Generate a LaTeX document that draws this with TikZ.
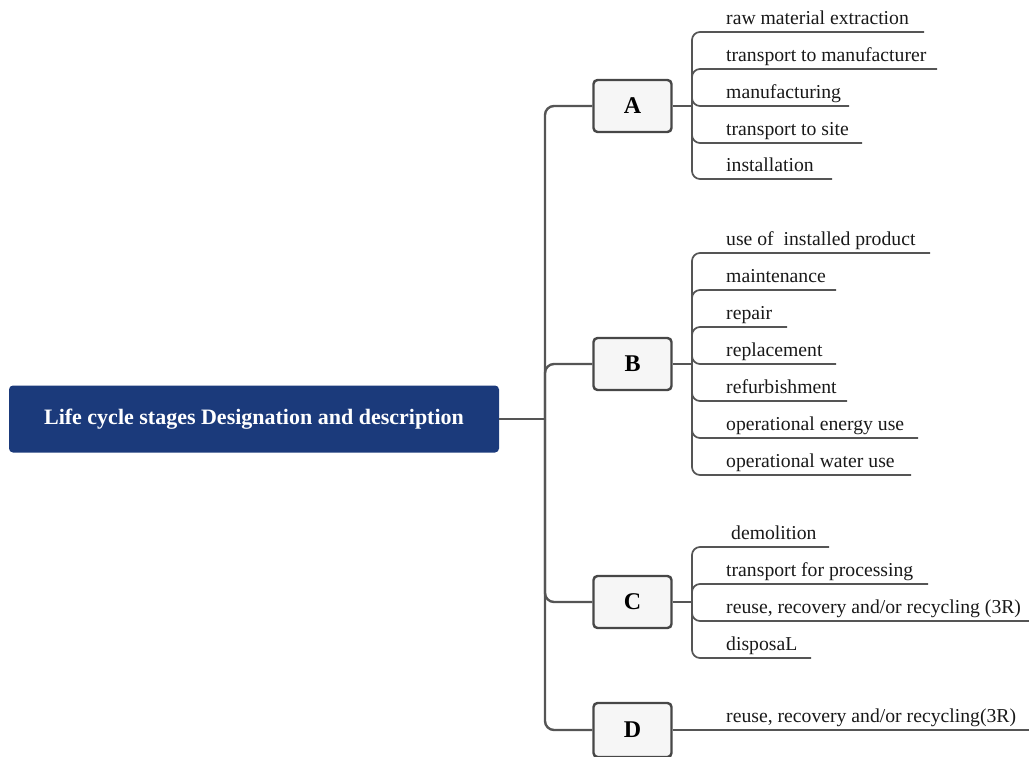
\documentclass[tikz,border=0pt]{standalone}
\usepackage{fontspec}
\setmainfont{Liberation Serif}
\begin{document}
\begin{tikzpicture}[x=1pt,y=-1pt,
  rootbox/.style={draw=none,fill=rootblue,rounded corners=4pt,minimum width=490pt,minimum height=67pt,text=white,font=\fontsize{22}{24}\selectfont\bfseries,inner sep=0pt},
  stagebox/.style={draw=boxline,line width=2.4pt,fill=boxfill,rounded corners=4pt,minimum width=78pt,minimum height=52pt,font=\fontsize{24}{26}\selectfont\bfseries,inner sep=0pt},
  item/.style={anchor=base west,inner sep=0pt,font=\fontsize{19.7}{22}\selectfont,text=black!90},
  trunk/.style={draw=linegray,line width=2.4pt,rounded corners=9pt},
  twig/.style={draw=linegray,line width=1.7pt,rounded corners=8pt}]
\definecolor{rootblue}{HTML}{1B3A7B}
\definecolor{boxline}{HTML}{474747}
\definecolor{boxfill}{HTML}{F6F6F6}
\definecolor{linegray}{HTML}{555555}
\useasboundingbox (0,0) rectangle (1029,757);

% root and trunk
\node[rootbox] (root) at (254,419) {Life cycle stages Designation and description};
\coordinate (hub) at (545,419);
\draw[trunk] (root.east) -- (hub);
\begin{scope}
\clip (0,0) rectangle (1029,757);
\node[stagebox] (A) at (632.5,106) {A};
\node[stagebox] (B) at (632.5,364) {B};
\node[stagebox] (C) at (632.5,602) {C};
\node[stagebox,minimum height=54pt] (D) at (632.5,730) {D};
\end{scope}
\draw[trunk] (hub) |- (A.west);
\draw[trunk] (hub) |- (B.west);
\draw[trunk] (hub) |- (C.west);
\draw[trunk] (hub) |- (D.west);

% A children
\coordinate (ja) at (692,106);
\draw[twig] (A.east) -- (ja);
\foreach \y/\e/\t/\n in {32/924/raw material extraction/a1,69/937/transport to manufacturer/a2,106/849/manufacturing/a3,143/862/transport to site/a4,179/832/installation/a5}{
  \node[item] (\n) at (726,\y-7.5) {\t};
  \coordinate (\n e) at (\e,\y);
  \draw[twig] (ja) |- (\n e);
}

% B children
\coordinate (jb) at (692,364);
\draw[twig] (B.east) -- (jb);
\foreach \y/\e/\t/\n in {253/930/use of\ \ installed product/b1,290/836/maintenance/b2,327/787/repair/b3,364/836/replacement/b4,401/847/refurbishment/b5,438/918/operational energy use/b6,475/911/operational water use/b7}{
  \node[item] (\n) at (726,\y-7.5) {\t};
  \coordinate (\n e) at (\e,\y);
  \draw[twig] (jb) |- (\n e);
}

% C children
\coordinate (jc) at (692,602);
\draw[twig] (C.east) -- (jc);
\foreach \y/\e/\x/\t/\n in {547/829/731/demolition/c1,584/928/726/transport for processing/c2,621/1029/726/{reuse, recovery and/or recycling (3R)}/c3,658/811/726/disposaL/c4}{
  \node[item] (\n) at (\x,\y-7.5) {\t};
  \coordinate (\n e) at (\e,\y);
  \draw[twig] (jc) |- (\n e);
}

% D child
\node[item] (d1) at (726,722.5) {reuse, recovery and/or recycling(3R)};
\coordinate (d1e) at (1029,730);
\draw[twig] (D.east) -- (d1e);
\end{tikzpicture}
\end{document}
